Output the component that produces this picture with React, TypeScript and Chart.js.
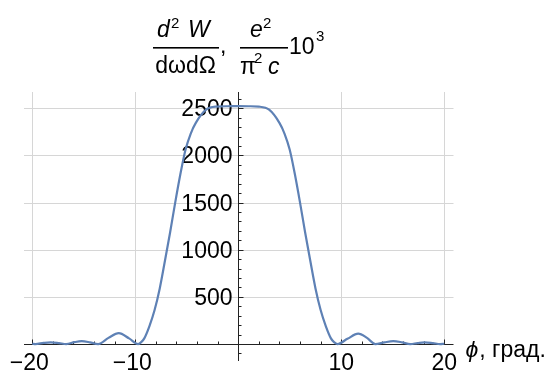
import React, { useEffect, useRef } from "react";
import { Chart, registerables } from "chart.js";

Chart.register(...registerables);

// Curve samples (phi in degrees, value)
const phiValues: number[] = [
  -20, -19.7, -18.9, -18.2, -17.4, -16.7, -15.9, -15.2, -14.4, -13.6, -12.6, -11.6, -10.6,
  -9.72, -9.42, -9.12, -8.62, -8.12, -7.62, -7.12, -6.62, -6.12, -5.62, -5.12, -4.62, -4.12,
  -3.12, -2.12, -1, 0, 1, 2, 3, 4, 4.5, 5, 5.5, 6, 6.5, 7, 7.5, 8, 8.5, 9, 9.3, 9.64,
  10.6, 11.65, 12.5, 13.3, 14.2, 15.05, 15.9, 16.7, 17.4, 18.1, 18.9, 19.6, 20,
];
const intensityValues: number[] = [
  3, 0, 12, 18, 10, 0, 20, 30, 18, 0, 65, 115, 60,
  0, 20, 60, 190, 360, 590, 880, 1180, 1500, 1800, 2060, 2230, 2345,
  2485, 2518, 2522, 2523, 2522, 2518, 2485, 2345, 2230, 2060, 1800, 1500, 1180, 880, 590, 360, 190, 60, 20, 0,
  55, 110, 65, 0, 18, 30, 18, 0, 10, 18, 10, 0, 3,
];

const xMajorTicks: number[] = [-20, -10, 10, 20];
const xTickLabels: string[] = ["\u221220", "\u221210", "10", "20"];
const yMajorTicks: number[] = [500, 1000, 1500, 2000, 2500];
const yTickLabels: string[] = ["500", "1000", "1500", "2000", "2500"];
const xMinorStep = 2;
const yMinorStep = 100;

const X_MIN = -20.8;
const X_MAX = 20.9;
const Y_MIN = -180;
const Y_MAX = 2673;

const LINE_COLOR = "rgb(94,129,181)";
const GRID_COLOR = "#d6d6d6";
const AXIS_COLOR = "#222";
const FONT = "'Liberation Sans', Arial, sans-serif";

const axesPlugin = {
  id: "mmaAxes",
  beforeDatasetsDraw(chart: any) {
    const { ctx, chartArea } = chart;
    const xs = chart.scales.x;
    const ys = chart.scales.y;
    const x0 = Math.round(xs.getPixelForValue(0)) + 0.5;
    const y0 = Math.round(ys.getPixelForValue(0)) + 0.5;
    ctx.save();
    // grid
    ctx.strokeStyle = GRID_COLOR;
    ctx.lineWidth = 1;
    yMajorTicks.forEach((v) => {
      const y = Math.round(ys.getPixelForValue(v)) + 0.5;
      ctx.beginPath();
      ctx.moveTo(chartArea.left, y);
      ctx.lineTo(chartArea.right, y);
      ctx.stroke();
    });
    xMajorTicks.forEach((v) => {
      const x = Math.round(xs.getPixelForValue(v)) + 0.5;
      ctx.beginPath();
      ctx.moveTo(x, chartArea.top);
      ctx.lineTo(x, y0);
      ctx.stroke();
    });
    // axes
    ctx.strokeStyle = AXIS_COLOR;
    ctx.beginPath();
    ctx.moveTo(chartArea.left, y0);
    ctx.lineTo(chartArea.right, y0);
    ctx.moveTo(x0, chartArea.top);
    ctx.lineTo(x0, chartArea.bottom);
    ctx.stroke();
    // x ticks
    ctx.beginPath();
    for (let v = -20; v <= 20; v += xMinorStep) {
      if (v === 0) continue;
      const x = Math.round(xs.getPixelForValue(v)) + 0.5;
      const len = v % 10 === 0 ? 5 : 3;
      ctx.moveTo(x, y0);
      ctx.lineTo(x, y0 - len);
    }
    // y ticks
    for (let v = -100; v <= 2600; v += yMinorStep) {
      if (v === 0) continue;
      const y = Math.round(ys.getPixelForValue(v)) + 0.5;
      const len = v % 500 === 0 ? 5 : 3;
      ctx.moveTo(x0, y);
      ctx.lineTo(x0 + len, y);
    }
    ctx.stroke();
    // tick labels
    ctx.fillStyle = "#000";
    ctx.font = `23px ${FONT}`;
    ctx.textBaseline = "alphabetic";
    ctx.textAlign = "center";
    xMajorTicks.forEach((v, i) => {
      const x = xs.getPixelForValue(v);
      ctx.fillText(xTickLabels[i], x - (v < 0 ? 3 : 0), y0 + 25);
    });
    ctx.textAlign = "right";
    yMajorTicks.forEach((v, i) => {
      const y = ys.getPixelForValue(v);
      ctx.fillText(yTickLabels[i], x0 - 6, y + 8);
    });
    ctx.restore();
  },
  afterDraw(chart: any) {
    const { ctx, chartArea } = chart;
    const ys = chart.scales.y;
    const y0 = ys.getPixelForValue(0);
    ctx.save();
    ctx.fillStyle = "#000";
    ctx.textBaseline = "alphabetic";
    ctx.textAlign = "left";
    // x axis label
    ctx.font = `italic 23px ${FONT}`;
    const axLabelX = chartArea.right + 12;
    ctx.fillText("\u03D5", axLabelX, y0 + 13);
    const phiW = ctx.measureText("\u03D5").width;
    ctx.font = `23px ${FONT}`;
    ctx.fillText(", \u0433\u0440\u0430\u0434.", axLabelX + phiW + 1, y0 + 13);

    // y axis label (two fractions and 10^3)
    const big = 23;
    const small = 15;
    // fraction 1 numerator: d^2 W
    ctx.font = `italic ${big}px ${FONT}`;
    ctx.fillText("d", 157, 37);
    ctx.font = `${small}px ${FONT}`;
    ctx.fillText("2", 171, 28);
    ctx.font = `italic ${big}px ${FONT}`;
    ctx.fillText("W", 188, 37);
    // bar 1
    ctx.fillRect(153, 47, 66, 1.6);
    // denominator dωdΩ
    ctx.font = `${big}px ${FONT}`;
    ctx.textAlign = "center";
    ctx.fillText("d\u03C9d\u03A9", 185.5, 73);
    ctx.textAlign = "left";
    // comma
    ctx.fillText(",", 220, 53);
    // fraction 2 numerator: e^2
    ctx.font = `italic ${big}px ${FONT}`;
    ctx.fillText("e", 250, 37);
    ctx.font = `${small}px ${FONT}`;
    ctx.fillText("2", 263, 28);
    // bar 2
    ctx.fillRect(240, 47, 48, 1.6);
    // denominator π^2 c
    ctx.font = `${big}px ${FONT}`;
    ctx.fillText("\u03C0", 240, 74);
    ctx.font = `${small}px ${FONT}`;
    ctx.fillText("2", 254, 63);
    ctx.font = `italic ${big}px ${FONT}`;
    ctx.fillText("c", 268, 74);
    // 10^3
    ctx.font = `23px ${FONT}`;
    ctx.fillText("10", 289, 54);
    ctx.font = `${small}px ${FONT}`;
    ctx.fillText("3", 316, 41);
    ctx.restore();
  },
};

export default function App() {
  const canvasRef = useRef<HTMLCanvasElement | null>(null);

  useEffect(() => {
    const canvas = canvasRef.current;
    if (!canvas) return;
    const chart = new Chart(canvas, {
      type: "line",
      data: {
        datasets: [
          {
            data: phiValues.map((x, i) => ({ x, y: intensityValues[i] })),
            borderColor: LINE_COLOR,
            borderWidth: 2.2,
            pointRadius: 0,
            fill: false,
            cubicInterpolationMode: "monotone",
          },
        ],
      },
      options: {
        responsive: false,
        animation: false,
        devicePixelRatio: 1,
        layout: { padding: { left: 24, right: 93.5, top: 92, bottom: 13 } },
        scales: {
          x: { type: "linear", min: X_MIN, max: X_MAX, display: false },
          y: { type: "linear", min: Y_MIN, max: Y_MAX, display: false },
        },
        plugins: {
          legend: { display: false },
          tooltip: { enabled: false },
        },
      },
      plugins: [axesPlugin],
    });
    return () => chart.destroy();
  }, []);

  return (
    <div style={{ position: "absolute", left: 0, top: 0, width: 547, height: 374, background: "#fff" }}>
      <canvas ref={canvasRef} width={547} height={374} style={{ display: "block" }} />
    </div>
  );
}
